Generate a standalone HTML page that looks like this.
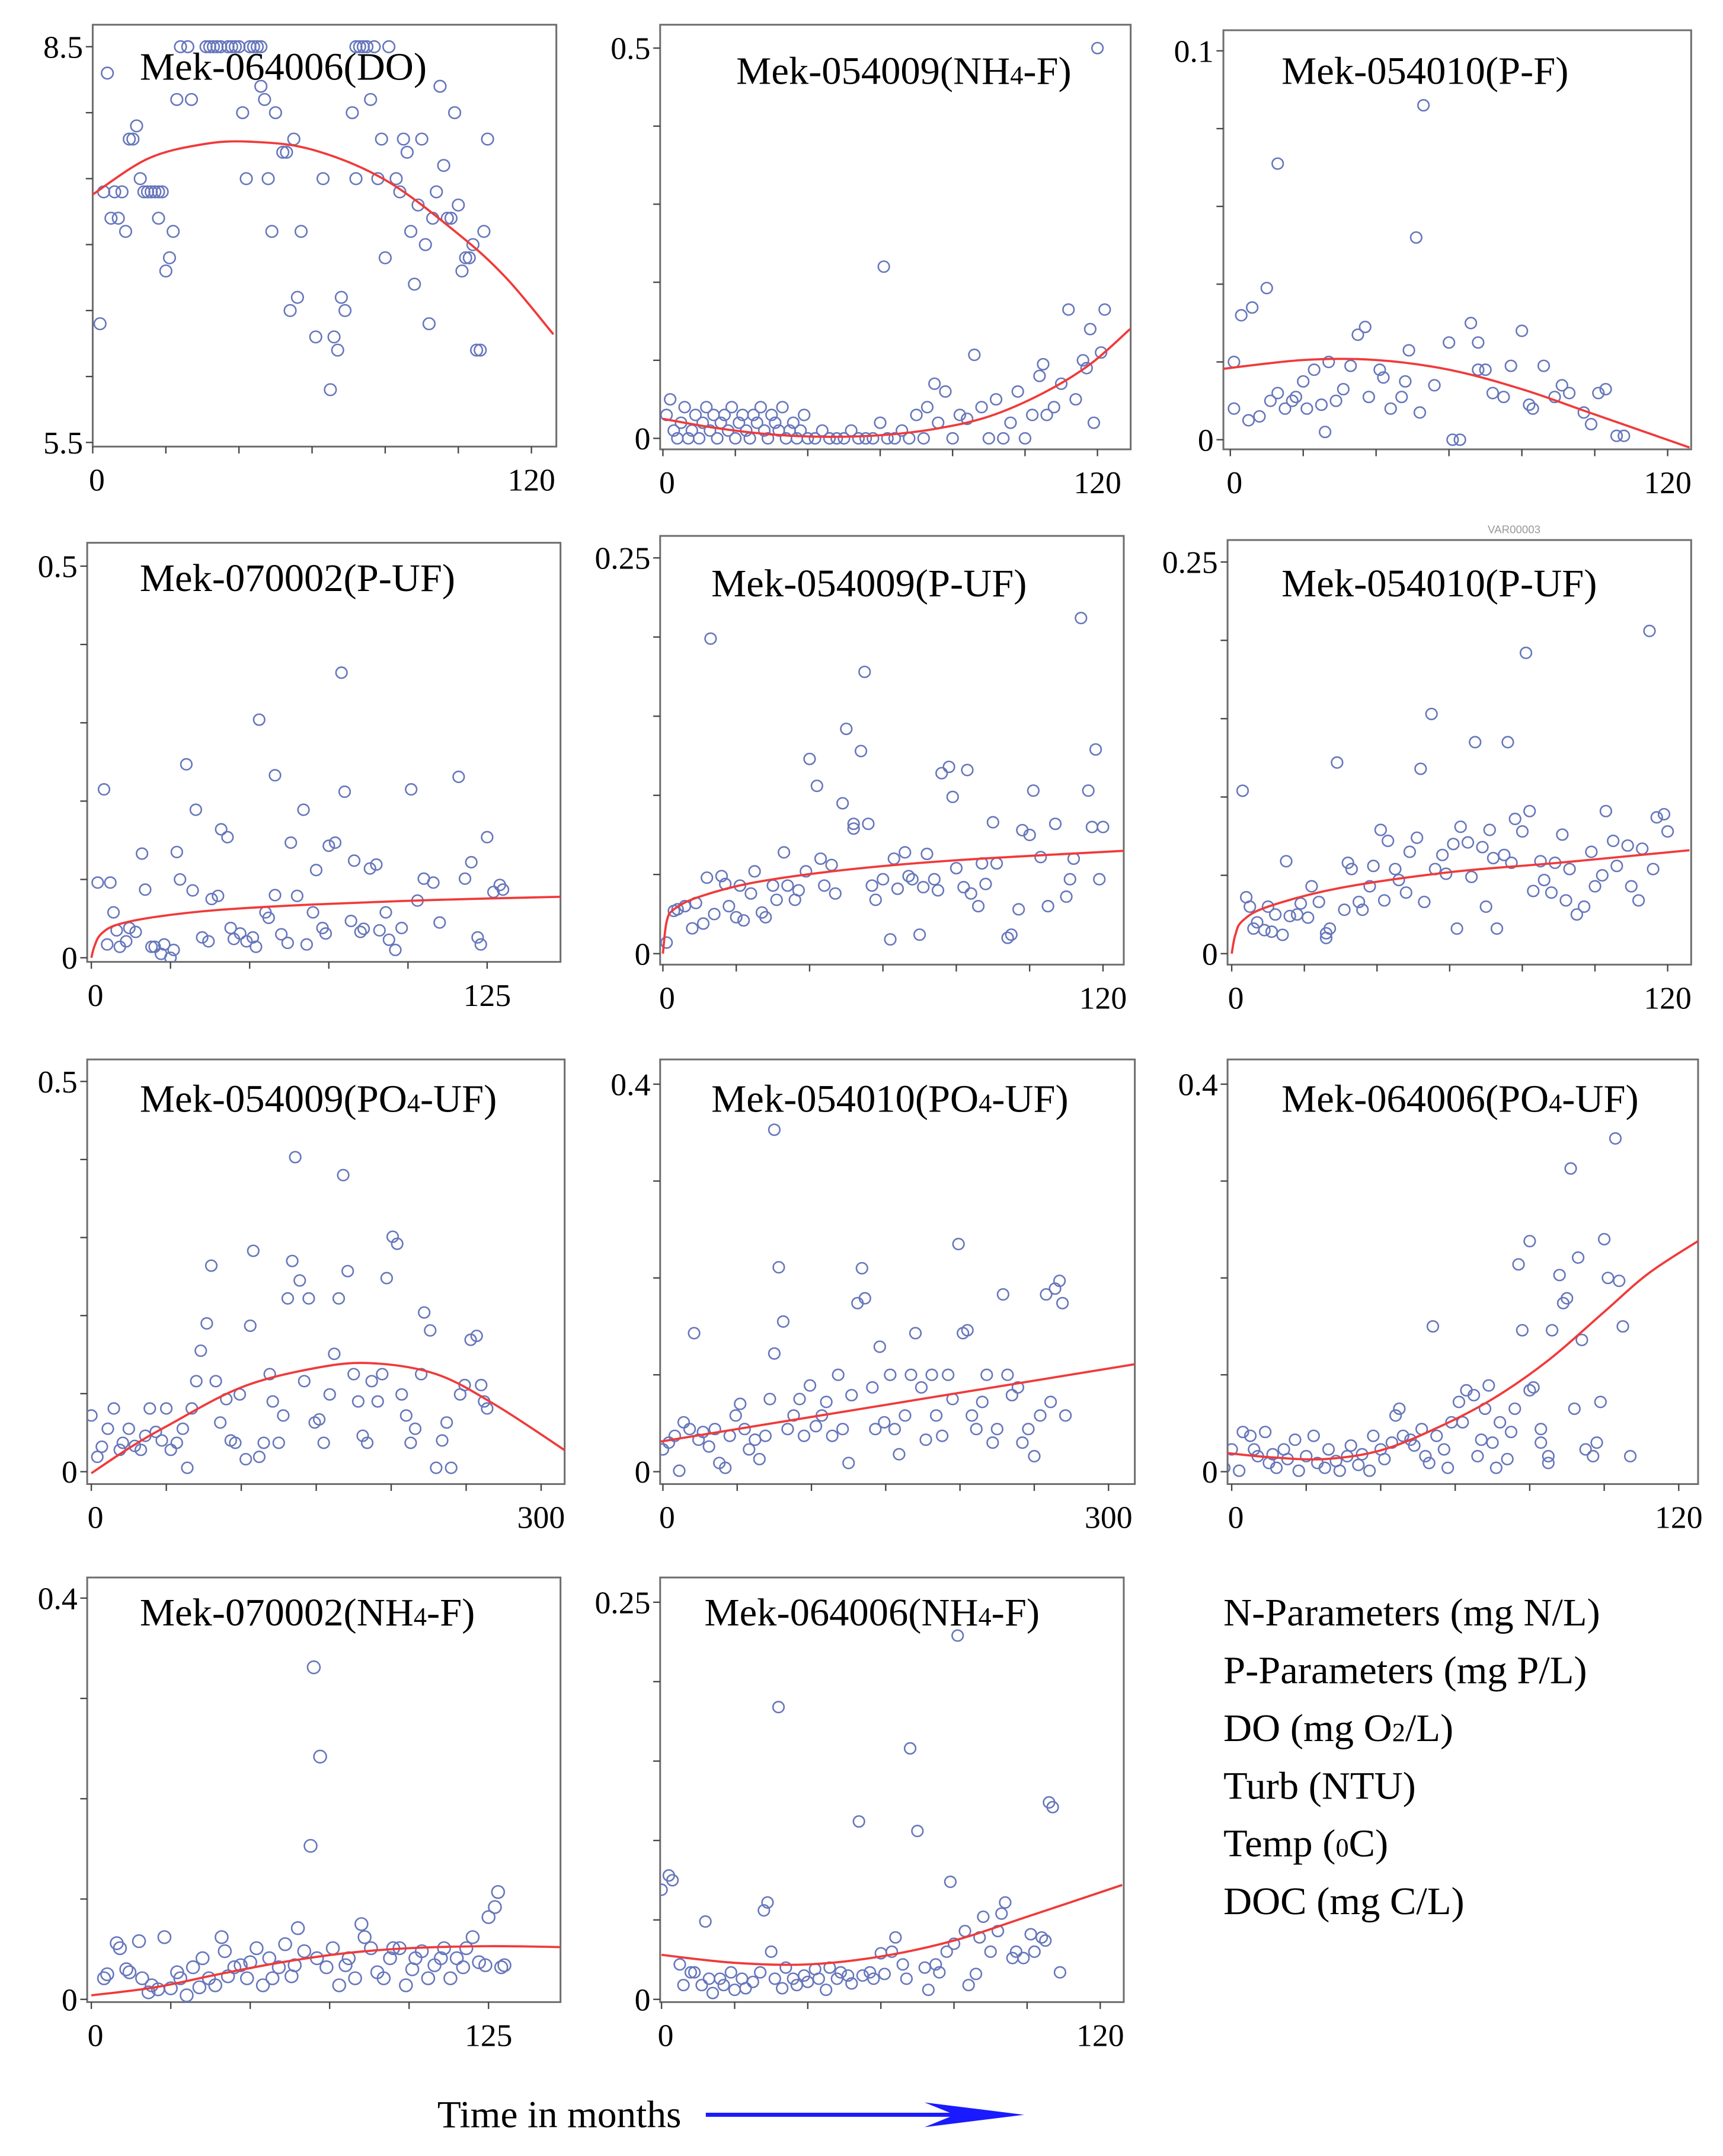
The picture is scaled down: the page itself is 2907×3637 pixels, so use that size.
<!DOCTYPE html>
<html><head><meta charset="utf-8"><style>
html,body{margin:0;padding:0;background:#fff;}
svg{display:block;}
text{font-family:"Liberation Serif",serif;fill:#000;}
</style></head><body>
<svg id="chart" xmlns="http://www.w3.org/2000/svg" width="2907" height="3637" viewBox="0 0 1245 1569" preserveAspectRatio="none">
<rect x="0" y="0" width="1245" height="1569" fill="#fff"/>
<g id="panels"></g>
<text x="1075" y="388" font-size="8" style="fill:#999;font-family:'Liberation Sans',sans-serif">VAR00003</text>
<g font-size="28.5">
<text x="884" y="1183">N-Parameters (mg N/L)</text>
<text x="884" y="1225">P-Parameters (mg P/L)</text>
<text x="884" y="1267">DO (mg O<tspan font-size="19">2</tspan>/L)</text>
<text x="884" y="1309">Turb (NTU)</text>
<text x="884" y="1351">Temp (<tspan font-size="19">0</tspan>C)</text>
<text x="884" y="1393">DOC (mg C/L)</text>
</g>
<text x="316" y="1548" font-size="28">Time in months</text>
<g>
<line x1="510" y1="1539" x2="700" y2="1539" stroke="#1a1aff" stroke-width="3"/>
<polygon points="740,1539 668,1530 690,1539 668,1548" fill="#1a1aff"/>
</g>
</svg>
<script>
// ---- data ----
const p1X=[2,4,3,5,6,7,8,9,10,11,12,13,14,15,16,17,18,19,18,20,21,22,23,24,26,27,31,32,33,34,35,37,38,39,40,43,44,45,46,41,42,46,47,48,49,50,52,53,54,55,56,57,61,63,65,66,67,68,69,71,72,72,73,74,75,77,76,78,79,80,81,83,84,85,86,87,88,89,90,91,92,93,94,95,96,97,98,99,100,101,102,103,104,105,106,107,108];
const p1Y=[6.4,8.3,7.4,7.2,7.4,7.2,7.4,7.1,7.8,7.8,7.9,7.5,7.4,7.4,7.4,7.4,7.4,7.4,7.2,6.8,6.9,7.1,8.1,8.5,8.5,8.1,8.5,8.5,8.5,8.5,8.5,8.5,8.5,8.5,8.5,8.5,8.5,8.5,8.5,8.0,7.5,8.2,8.1,7.5,7.1,8.0,7.7,7.7,6.5,7.8,6.6,7.1,6.3,7.5,5.9,6.3,6.2,6.6,6.5,8.0,7.5,8.5,8.5,8.5,8.5,8.5,8.1,7.5,7.8,6.9,8.5,7.5,7.4,7.8,7.7,7.1,6.7,7.3,7.8,7.0,6.4,7.2,7.4,8.2,7.6,7.2,7.2,8.0,7.3,6.8,6.9,6.9,7.0,6.2,6.2,7.1,7.8];
const p1FitX=[0,15,30,43,60,80,100,113,126];
const p1FitY=[7.38,7.65,7.76,7.78,7.72,7.49,7.08,6.75,6.32];

const p2X=[1,2,3,4,5,6,7,8,9,10,11,12,13,14,15,16,17,18,19,20,21,22,23,24,25,26,27,28,29,30,31,32,33,34,35,36,37,38,39,40,42,44,46,48,50,52,54,56,58,60,61,62,64,66,68,70,72,73,75,76,78,80,82,84,86,88,90,92,94,96,98,100,102,104,105,106,108,110,112,114,116,117,118,119,120,121,122];
const p2Y=[0.03,0.05,0.01,0.0,0.02,0.04,0.0,0.01,0.03,0.0,0.02,0.04,0.01,0.03,0.0,0.02,0.03,0.01,0.04,0.0,0.02,0.03,0.01,0.0,0.03,0.02,0.04,0.01,0.0,0.03,0.02,0.01,0.04,0.0,0.01,0.02,0.0,0.01,0.03,0.0,0.0,0.01,0.0,0.0,0.0,0.01,0.0,0.0,0.0,0.02,0.22,0.0,0.0,0.01,0.0,0.03,0.0,0.04,0.07,0.02,0.06,0.0,0.03,0.025,0.107,0.04,0.0,0.05,0.0,0.02,0.06,0.0,0.03,0.08,0.095,0.03,0.04,0.07,0.165,0.05,0.10,0.09,0.14,0.02,0.5,0.11,0.165];
const p2FitX=[0,15,30,45,60,75,90,105,118,129];
const p2FitY=[0.025,0.013,0.005,0.002,0.004,0.012,0.028,0.058,0.095,0.14];

const p3X=[1,1,3,5,6,8,10,11,13,13,15,17,18,20,21,23,25,26,27,29,31,33,35,37,38,41,42,44,47,48,49,51,53,52,56,60,61,63,66,68,68,70,72,75,77,80,82,83,86,89,91,93,97,99,101,103,106,108];
const p3Y=[0.008,0.020,0.032,0.005,0.034,0.006,0.039,0.010,0.071,0.012,0.008,0.010,0.011,0.015,0.008,0.018,0.009,0.002,0.020,0.010,0.013,0.019,0.027,0.029,0.011,0.018,0.016,0.008,0.011,0.015,0.023,0.052,0.086,0.007,0.014,0.025,0.000,0.000,0.030,0.025,0.018,0.018,0.012,0.011,0.019,0.028,0.009,0.008,0.019,0.011,0.014,0.012,0.007,0.004,0.012,0.013,0.001,0.001];
const p3FitX=[-4,20,40,60,80,100,126];
const p3FitY=[0.018,0.0205,0.0205,0.018,0.013,0.0065,-0.002];

const p4X=[2,4,5,6,7,8,9,11,12,14,16,17,19,20,22,23,25,26,27,28,30,32,33,35,37,38,40,41,43,44,45,47,49,51,52,53,55,56,58,58,60,62,63,65,67,68,70,71,73,74,75,77,79,80,82,83,85,86,88,90,91,93,94,96,98,101,103,105,108,110,116,118,120,122,123,125,127,129,130];
const p4Y=[0.096,0.215,0.017,0.096,0.058,0.035,0.014,0.021,0.038,0.033,0.133,0.087,0.014,0.014,0.005,0.017,0.0,0.01,0.135,0.1,0.247,0.086,0.189,0.026,0.021,0.075,0.079,0.164,0.154,0.038,0.024,0.031,0.021,0.026,0.014,0.304,0.058,0.051,0.233,0.08,0.03,0.019,0.147,0.079,0.189,0.017,0.058,0.112,0.038,0.031,0.143,0.147,0.364,0.212,0.047,0.124,0.033,0.037,0.114,0.119,0.035,0.058,0.023,0.01,0.038,0.215,0.073,0.101,0.096,0.045,0.231,0.101,0.122,0.026,0.017,0.154,0.084,0.093,0.087];
const p4FitX=[0,1,3,8,20,40,70,110,150];
const p4FitY=[0,0.015,0.03,0.042,0.052,0.061,0.068,0.074,0.078];

const p5X=[1,3,4,6,8,9,11,12,13,14,16,17,18,20,21,22,24,25,27,28,30,31,33,34,36,37,39,40,42,43,44,46,47,49,50,52,52,54,55,56,57,58,60,62,63,64,66,67,68,70,71,72,74,75,76,78,79,80,82,83,84,86,87,88,90,91,94,95,97,98,100,101,103,105,107,110,111,112,114,116,117,118,119,120];
const p5Y=[0.007,0.027,0.028,0.03,0.016,0.032,0.019,0.048,0.199,0.025,0.049,0.044,0.03,0.023,0.043,0.021,0.038,0.052,0.026,0.023,0.043,0.034,0.064,0.043,0.034,0.04,0.052,0.123,0.106,0.06,0.043,0.056,0.038,0.095,0.142,0.082,0.079,0.128,0.178,0.082,0.043,0.034,0.047,0.009,0.06,0.041,0.064,0.049,0.047,0.012,0.042,0.063,0.047,0.04,0.114,0.118,0.099,0.054,0.042,0.116,0.038,0.03,0.057,0.044,0.083,0.057,0.01,0.012,0.028,0.078,0.075,0.103,0.061,0.03,0.082,0.036,0.047,0.06,0.212,0.103,0.08,0.129,0.047,0.08];
const p5FitX=[0,1,3,10,25,50,80,126];
const p5FitY=[0,0.02,0.028,0.036,0.045,0.053,0.059,0.065];

const p6X=[3,4,5,6,7,9,10,11,12,14,15,16,18,19,21,22,24,26,26,27,29,31,32,33,35,36,38,39,41,42,43,45,46,48,49,51,52,53,55,56,58,59,61,62,63,65,66,67,69,70,71,72,73,75,76,77,78,80,81,82,83,85,86,88,89,91,92,93,95,97,99,100,102,103,105,106,109,110,112,113,115,116,117,119,120];
const p6Y=[0.104,0.036,0.03,0.016,0.02,0.015,0.03,0.014,0.025,0.012,0.059,0.024,0.025,0.032,0.023,0.043,0.033,0.013,0.01,0.016,0.122,0.028,0.058,0.054,0.033,0.028,0.043,0.056,0.079,0.034,0.072,0.054,0.047,0.039,0.065,0.074,0.118,0.033,0.153,0.054,0.063,0.051,0.07,0.016,0.081,0.071,0.049,0.135,0.068,0.03,0.079,0.061,0.016,0.063,0.135,0.058,0.086,0.078,0.192,0.091,0.04,0.059,0.047,0.039,0.058,0.076,0.034,0.054,0.025,0.03,0.065,0.043,0.05,0.091,0.072,0.056,0.069,0.043,0.034,0.067,0.206,0.054,0.087,0.089,0.078];
const p6FitX=[0,1,3,10,30,60,90,126];
const p6FitY=[0,0.012,0.021,0.03,0.042,0.052,0.058,0.066];

const p7X=[0,4,7,11,15,19,21,25,29,33,36,39,43,47,50,53,57,61,64,67,70,73,77,80,83,86,90,93,96,99,103,106,108,112,115,119,121,125,128,131,134,136,139,142,145,149,152,155,159,162,165,168,171,175,178,181,184,187,191,194,197,201,204,207,210,213,216,220,222,226,230,234,237,240,246,249,253,257,260,262,264];
const p7Y=[0.072,0.019,0.032,0.055,0.081,0.028,0.037,0.055,0.033,0.028,0.046,0.081,0.051,0.04,0.081,0.028,0.037,0.055,0.005,0.081,0.116,0.155,0.19,0.264,0.116,0.063,0.093,0.04,0.037,0.099,0.016,0.187,0.283,0.019,0.037,0.125,0.09,0.037,0.072,0.222,0.27,0.403,0.245,0.116,0.222,0.063,0.067,0.037,0.099,0.151,0.222,0.38,0.257,0.125,0.09,0.046,0.037,0.116,0.09,0.125,0.248,0.301,0.292,0.099,0.072,0.037,0.055,0.125,0.204,0.181,0.005,0.04,0.063,0.005,0.099,0.111,0.169,0.174,0.111,0.09,0.081];
const p7FitX=[0,25,50,100,150,187,230,270,320];
const p7FitY=[-0.002,0.03,0.058,0.108,0.133,0.139,0.125,0.085,0.022];

const p8X=[0,4,8,11,14,18,21,24,27,31,35,38,42,45,49,52,55,58,62,65,69,72,75,75,78,81,84,88,92,95,99,103,107,110,114,118,121,125,127,131,134,136,141,143,146,149,153,156,159,163,167,170,174,177,181,184,188,192,195,199,202,205,208,211,215,218,222,225,229,232,235,239,242,246,250,254,258,261,264,267,269,271];
const p8Y=[0.023,0.03,0.037,0.001,0.051,0.044,0.143,0.033,0.041,0.026,0.044,0.009,0.004,0.037,0.058,0.07,0.044,0.023,0.033,0.013,0.037,0.075,0.122,0.353,0.211,0.155,0.044,0.058,0.075,0.037,0.089,0.047,0.058,0.072,0.037,0.1,0.044,0.009,0.079,0.174,0.21,0.179,0.087,0.044,0.129,0.051,0.1,0.044,0.018,0.058,0.1,0.143,0.087,0.033,0.1,0.058,0.037,0.1,0.075,0.235,0.143,0.146,0.058,0.044,0.072,0.1,0.03,0.044,0.183,0.1,0.079,0.087,0.03,0.044,0.016,0.058,0.183,0.072,0.189,0.197,0.174,0.058];
const p8FitX=[-6,318];
const p8FitY=[0.03,0.111];

const p9X=[-2,0,2,3,5,6,7,9,10,11,12,14,15,17,18,20,22,23,25,26,28,29,31,32,34,35,37,38,40,41,43,44,45,46,48,49,51,52,53,54,55,57,58,59,61,62,63,65,66,67,68,69,70,71,72,74,75,76,77,78,80,80,81,83,83,85,85,86,88,89,90,91,92,93,94,95,97,98,99,100,101,103,104,105,107];
const p9Y=[0.004,0.023,0.001,0.041,0.037,0.023,0.016,0.041,0.009,0.018,0.004,0.023,0.013,0.033,0.001,0.016,0.037,0.009,0.004,0.023,0.011,0.001,0.016,0.027,0.007,0.018,0.001,0.037,0.023,0.013,0.03,0.058,0.065,0.037,0.033,0.027,0.044,0.016,0.009,0.15,0.037,0.023,0.004,0.051,0.072,0.051,0.084,0.079,0.016,0.033,0.065,0.089,0.03,0.004,0.051,0.013,0.041,0.065,0.214,0.146,0.084,0.238,0.087,0.03,0.044,0.016,0.009,0.146,0.203,0.174,0.179,0.313,0.065,0.221,0.136,0.023,0.016,0.03,0.072,0.24,0.2,0.344,0.197,0.15,0.016];
const p9FitX=[-3,10,25,40,55,70,85,100,112,126];
const p9FitY=[0.02,0.015,0.013,0.022,0.045,0.075,0.115,0.165,0.205,0.24];

const p10X=[4,5,8,9,11,12,15,16,18,19,21,23,25,27,28,30,32,34,35,37,39,41,42,43,45,47,49,50,52,54,56,57,59,61,63,64,65,67,69,70,71,72,74,76,78,80,81,83,85,86,88,90,92,94,95,97,99,101,102,104,106,108,110,111,113,115,117,118,120,122,124,125,127,128,129,130];
const p10Y=[0.021,0.025,0.056,0.051,0.03,0.027,0.058,0.021,0.007,0.014,0.01,0.062,0.011,0.027,0.021,0.004,0.032,0.012,0.041,0.021,0.014,0.062,0.048,0.023,0.032,0.034,0.021,0.037,0.051,0.014,0.041,0.021,0.032,0.055,0.023,0.034,0.071,0.048,0.153,0.331,0.041,0.242,0.032,0.051,0.014,0.034,0.041,0.021,0.075,0.062,0.051,0.027,0.021,0.041,0.051,0.051,0.014,0.03,0.041,0.048,0.021,0.034,0.041,0.051,0.021,0.041,0.032,0.051,0.062,0.037,0.034,0.082,0.092,0.107,0.032,0.034];
const p10FitX=[0,20,40,60,80,100,125,150];
const p10FitY=[0.004,0.012,0.025,0.037,0.046,0.051,0.053,0.052];

const p11X=[0,2,3,5,6,8,9,11,12,13,14,16,17,19,20,22,23,25,27,28,29,30,31,32,33,34,36,37,39,40,42,43,45,46,48,49,51,52,54,55,57,58,60,61,63,64,66,67,68,70,72,73,75,76,78,79,80,81,83,84,86,87,88,90,92,93,94,96,97,99,101,102,104,105,106,107,109];
const p11Y=[0.069,0.078,0.075,0.022,0.009,0.017,0.017,0.009,0.049,0.013,0.004,0.013,0.009,0.017,0.006,0.013,0.007,0.011,0.017,0.056,0.061,0.03,0.013,0.184,0.007,0.02,0.013,0.009,0.015,0.011,0.019,0.013,0.006,0.02,0.013,0.017,0.015,0.01,0.112,0.015,0.017,0.013,0.029,0.016,0.03,0.039,0.022,0.013,0.158,0.106,0.02,0.006,0.022,0.017,0.03,0.074,0.035,0.229,0.043,0.009,0.016,0.039,0.052,0.03,0.043,0.054,0.061,0.026,0.03,0.026,0.041,0.03,0.039,0.037,0.124,0.121,0.017];
const p11FitX=[0,20,40,60,80,100,126];
const p11FitY=[0.028,0.023,0.022,0.027,0.037,0.052,0.072];

// tick labels
const yTickLabels=[["5.5","8.5"],["0","0.5"],["0","0.1"],["0","0.5"],["0","0.25"],["0","0.25"],["0","0.5"],["0","0.4"],["0","0.4"],["0","0.4"],["0","0.25"]];
const xTickLabels=[["0","120"],["0","120"],["0","120"],["0","125"],["0","120"],["0","120"],["0","300"],["0","300"],["0","120"],["0","125"],["0","120"]];
const yDomains=[[5.5,8.5],[0,0.5],[0,0.1],[0,0.5],[0,0.25],[0,0.25],[0,0.5],[0,0.4],[0,0.4],[0,0.4],[0,0.25]];
const xMaxes=[120,120,120,125,120,120,300,300,120,125,120];
const yTickSteps=[0.5,0.1,0.02,0.1,0.05,0.05,0.1,0.1,0.1,0.1,0.05];
const xTickSteps=[20,20,20,25,20,20,50,50,20,25,20];
const titles=["Mek-064006(DO)","Mek-054009(NH4-F)","Mek-054010(P-F)","Mek-070002(P-UF)","Mek-054009(P-UF)","Mek-054010(P-UF)","Mek-054009(PO4-UF)","Mek-054010(PO4-UF)","Mek-064006(PO4-UF)","Mek-070002(NH4-F)","Mek-064006(NH4-F)"];

// ---- layout (pixel geometry, viewBox units) ----
const layout=[
 {L:67,R:402,T:18,B:325,y0:322,y1:34,x0:67,x1:384,tx:101,ty:58,r:4.2},
 {L:477,R:817,T:18,B:327,y0:319,y1:35,x0:479,x1:793,tx:532,ty:61,r:4},
 {L:884,R:1222,T:22,B:327,y0:320,y1:37,x0:889,x1:1205,tx:926,ty:61,r:4},
 {L:63,R:405,T:395,B:700,y0:697,y1:412,x0:66,x1:352,tx:101,ty:430,r:4},
 {L:477,R:812,T:390,B:702,y0:694,y1:406,x0:479,x1:797,tx:514,ty:434,r:4},
 {L:887,R:1222,T:393,B:702,y0:694,y1:409,x0:890,x1:1205,tx:926,ty:434,r:4},
 {L:63,R:408,T:771,B:1080,y0:1071,y1:787,x0:66,x1:391,tx:101,ty:809,r:4},
 {L:477,R:820,T:771,B:1080,y0:1071,y1:789,x0:479,x1:801,tx:514,ty:809,r:4},
 {L:887,R:1227,T:771,B:1080,y0:1071,y1:789,x0:890,x1:1213,tx:926,ty:809,r:4},
 {L:63,R:405,T:1148,B:1457,y0:1455,y1:1163,x0:66,x1:353,tx:101,ty:1183,r:4.5},
 {L:477,R:812,T:1148,B:1457,y0:1455,y1:1166,x0:478,x1:795,tx:509,ty:1183,r:4}
];
const series=[[p1X,p1Y,p1FitX,p1FitY],[p2X,p2Y,p2FitX,p2FitY],[p3X,p3Y,p3FitX,p3FitY],[p4X,p4Y,p4FitX,p4FitY],[p5X,p5Y,p5FitX,p5FitY],[p6X,p6Y,p6FitX,p6FitY],[p7X,p7Y,p7FitX,p7FitY],[p8X,p8Y,p8FitX,p8FitY],[p9X,p9Y,p9FitX,p9FitY],[p10X,p10Y,p10FitX,p10FitY],[p11X,p11Y,p11FitX,p11FitY]];

const NS="http://www.w3.org/2000/svg";
const root=document.getElementById('panels');
function mk(tag,attrs,parent){const e=document.createElementNS(NS,tag);for(const k in attrs)e.setAttribute(k,attrs[k]);parent.appendChild(e);return e;}
const defs=mk('defs',{},root);

layout.forEach((g,i)=>{
  const dom=yDomains[i], xm=xMaxes[i];
  const sx=v=>g.x0+(v/xm)*(g.x1-g.x0);
  const sy=v=>g.y0-(v-dom[0])/(dom[1]-dom[0])*(g.y0-g.y1);
  const grp=mk('g',{},root);
  
  
  const cp=mk('clipPath',{id:'clip'+i},defs);
  mk('rect',{x:g.L,y:g.T,width:g.R-g.L,height:g.B-g.T},cp);
  const frame=mk('rect',{x:g.L,y:g.T,width:g.R-g.L,height:g.B-g.T,fill:'none',stroke:'#6e6e6e','stroke-width':1.3},grp);
  
  
  const nY=Math.round((dom[1]-dom[0])/yTickSteps[i]);
  for(let k=0;k<=nY;k++){const yy=sy(dom[0]+k*yTickSteps[i]);mk('line',{x1:g.L-5,x2:g.L,y1:yy,y2:yy,stroke:'#444','stroke-width':1},grp);}
  const nX=Math.round(xm/xTickSteps[i]);
  for(let k=0;k<=nX;k++){const xx=sx(k*xTickSteps[i]);mk('line',{x1:xx,x2:xx,y1:g.B,y2:g.B+5,stroke:'#444','stroke-width':1},grp);}
  const ylb=mk('text',{x:g.L-7,y:sy(dom[0])+8,'font-size':23,'text-anchor':'end'},grp);ylb.textContent=yTickLabels[i][0];
  
  
  const ylt=mk('text',{x:g.L-7,y:sy(dom[1])+8,'font-size':23,'text-anchor':'end'},grp);ylt.textContent=yTickLabels[i][1];
  
  
  const xl0=mk('text',{x:sx(0)+3,y:g.B+32,'font-size':23,'text-anchor':'middle'},grp);xl0.textContent=xTickLabels[i][0];
  
  
  const xl1=mk('text',{x:sx(xm),y:g.B+32,'font-size':23,'text-anchor':'middle'},grp);xl1.textContent=xTickLabels[i][1];
  
  
  const [xs,ys,fx,fy]=series[i];
  const pg=mk('g',{'clip-path':'url(#clip'+i+')'},grp);
  for(let k=0;k<xs.length;k++){
    const c=mk('circle',{cx:sx(xs[k]),cy:sy(ys[k]),r:g.r,fill:'none',stroke:'#6676bb','stroke-width':1.1},pg);
    
    
  }
  const P=fx.map((v,k)=>[sx(v),sy(fy[k])]);
  let d='M'+P[0][0]+','+P[0][1];
  for(let k=0;k<P.length-1;k++){
    const p0=P[Math.max(0,k-1)],p1=P[k],p2=P[k+1],p3=P[Math.min(P.length-1,k+2)];
    const c1=[p1[0]+(p2[0]-p0[0])/6,p1[1]+(p2[1]-p0[1])/6];
    const c2=[p2[0]-(p3[0]-p1[0])/6,p2[1]-(p3[1]-p1[1])/6];
    d+=' C'+c1[0]+','+c1[1]+' '+c2[0]+','+c2[1]+' '+p2[0]+','+p2[1];
  }
  const cur=mk('path',{d:d,fill:'none',stroke:'#f03a3a','stroke-width':1.6},pg);
  
  
  const t=mk('text',{x:g.tx,y:g.ty,'font-size':28.5},grp);
  
  
  const parts=titles[i].split(/(NH4|PO4)/);
  parts.forEach(s=>{
    if(s==='NH4'||s==='PO4'){const a=document.createElementNS(NS,'tspan');a.textContent=s.slice(0,-1);t.appendChild(a);
      const b=document.createElementNS(NS,'tspan');b.setAttribute('font-size','19');b.textContent='4';t.appendChild(b);}
    else if(s){const a=document.createElementNS(NS,'tspan');a.textContent=s;t.appendChild(a);}
  });
});
</script>
</body></html>
